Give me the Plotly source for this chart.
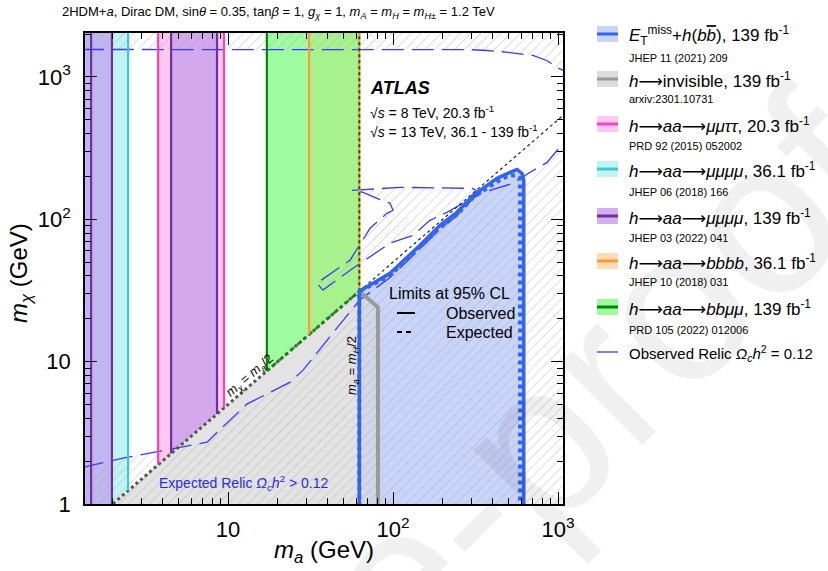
import plotly.graph_objects as go

# ---------------- data (GeV) ----------------
M_H_HALF = 62.5
X_EXT = [1.3, 1200.0]      # polygon extension beyond axis range
Y_EXT = [0.3, 3000.0]

# vertical exclusion bands [low, high] in m_a
cyan_band = [1.30, 2.48]
purple_band_low = [1.30, 1.98]
pink_band = [3.77, 9.46]
purple_band_high = [4.52, 8.58]
green_band = [17.2, 62.5]
orange_band = [31.0, 62.5]

cyan_edges = [2.48]
purple_edges = [1.48, 1.98, 4.52, 8.58]
pink_edges = [3.77, 9.46]
green_edges = [17.2]
orange_edges = [31.0, 62.5]

# E_T^miss + h(bb) observed / expected contours
obs_ma = [62.5, 62.5, 95.9, 145.8, 192.7, 244, 305, 427, 512, 565, 605, 620, 620]
obs_mchi = [0.3, 31.25, 41.8, 65.7, 90.8, 112, 147, 194, 214, 224, 210, 188, 0.3]
exp_ma = [62.5, 62.5, 95, 145, 192, 244, 305, 420, 505, 560, 585, 589, 589]
exp_mchi = [0.3, 31.25, 40, 63, 87, 108, 142, 182, 204, 203, 195, 182, 0.3]

# h -> invisible
hinv_ma = [62.5, 81, 81]
hinv_mchi = [31.25, 24.1, 0.3]

# kinematic line m_chi = m_a / 2
diag_low_ma = [1.0, 62.5]
diag_low_mchi = [0.5, 31.25]
diag_high_ma = [62.5, 1200]
diag_high_mchi = [31.25, 600]

# observed relic Omega h^2 = 0.12 contours
relic_top_ma = [1.3, 100, 293, 372, 500, 705, 860, 986, 1072, 1200]
relic_top_mchi = [1560, 1560, 1555, 1535, 1490, 1416, 1300, 1166, 1111, 1050]
relic_low_ma = [1.3, 2.31, 3.87, 7.46, 13.0, 23.8, 28.5, 38.7, 54.9, 62.5, 96, 146, 193,
                244, 305, 337, 534, 677, 858, 1072, 1200]
relic_low_mchi = [1.80, 2.10, 2.35, 2.72, 5.03, 7.18, 8.72, 13.5, 22.3, 27.0, 39, 62, 86,
                  106, 140, 152, 179, 214, 251, 341, 400]
relic_lobe_ma = [56.4, 110.3, 305.3, 336.8, 212.5, 167.6, 132.2, 95.9, 57.2, 37.6, 34.6,
                 54.9, 72.6, 91.9, 100, 95.9, 80.0, 65.8, 56.4]
relic_lobe_mchi = [159.8, 167.7, 165.0, 152.2, 112.0, 98.4, 77.2, 67.9, 45.3, 31.8, 35.6,
                   51.6, 86.5, 110.2, 115.7, 129.5, 140.4, 154.7, 159.8]

x_tickvals = [10, 100, 1000]
x_ticktext = ["10", "10<sup>2</sup>", "10<sup>3</sup>"]
y_tickvals = [1, 10, 100, 1000]
y_ticktext = ["1", "10", "10<sup>2</sup>", "10<sup>3</sup>"]

ARROW = "<span style='font-family:DejaVu Sans'>\u27f6</span>"
legend_labels = [
    "<i>E</i><sub>T</sub><sup>miss</sup>+<i>h</i>(<i>b</i><i><span style='text-decoration:overline'>b</span></i>), 139 fb<sup>-1</sup>",
    "<i>h</i>" + ARROW + "invisible, 139 fb<sup>-1</sup>",
    "<i>h</i>" + ARROW + "<i>aa</i>" + ARROW + "<i>\u03bc\u03bc\u03c4\u03c4</i>, 20.3 fb<sup>-1</sup>",
    "<i>h</i>" + ARROW + "<i>aa</i>" + ARROW + "<i>\u03bc\u03bc\u03bc\u03bc</i>, 36.1 fb<sup>-1</sup>",
    "<i>h</i>" + ARROW + "<i>aa</i>" + ARROW + "<i>\u03bc\u03bc\u03bc\u03bc</i>, 139 fb<sup>-1</sup>",
    "<i>h</i>" + ARROW + "<i>aa</i>" + ARROW + "<i>bbbb</i>, 36.1 fb<sup>-1</sup>",
    "<i>h</i>" + ARROW + "<i>aa</i>" + ARROW + "<i>bb\u03bc\u03bc</i>, 139 fb<sup>-1</sup>",
    "Observed Relic <i>\u03a9<sub>c</sub>h</i><sup>2</sup> = 0.12",
]
legend_refs = ["JHEP 11 (2021) 209", "arxiv:2301.10731", "PRD 92 (2015) 052002",
               "JHEP 06 (2018) 166", "JHEP 03 (2022) 041", "JHEP 10 (2018) 031",
               "PRD 105 (2022) 012006", None]

# ---------------- styles ----------------
FONT = "Liberation Sans, Arial, Helvetica, sans-serif"
C_BLUE_FILL = "#c8d4fa"
C_BLUE = "#3165f0"
C_GRAY_FILL = "#e3e3e3"
C_INV_FILL = "#d2d8e8"
C_GRAY = "#9a9a9a"
C_RELIC = "#3a3aff"
legend_fill = ["#c8d4fa", "#dcdcdc", "#ffc8ee", "#c0f4f4", "#d4b0f0", "#ffdcb8", "#a0f8a0", None]
legend_line = [C_BLUE, C_GRAY, "#ff3fbf", "#3cc8d0", "#7030a0", "#ff9933", "#008800", C_RELIC]
legend_size = [17, 17, 17, 17, 17, 17, 17, 15]

fig = go.Figure()


def half(v):
    return v / 2.0


def band(lo_hi, color):
    lo, hi = lo_hi
    fig.add_trace(go.Scatter(
        x=[lo, lo, hi, hi, lo], y=[half(lo), Y_EXT[1], Y_EXT[1], half(hi), half(lo)],
        fill="toself", fillcolor=color, line=dict(width=0), mode="lines",
        hoverinfo="skip", showlegend=False))


band(cyan_band, "#c0f4f4")
band(purple_band_low, "#c0b6f0")
band(pink_band, "#ffc8ee")
band(purple_band_high, "#d4a8ec")
band(green_band, "#a0fca0")
band(orange_band, "#a8f28e")

# region m_chi < m_a/2 below m_H/2
fig.add_trace(go.Scatter(
    x=[diag_low_ma[0], diag_low_ma[1], diag_low_ma[1], diag_low_ma[0]],
    y=[diag_low_mchi[0], diag_low_mchi[1], Y_EXT[0], Y_EXT[0]],
    fill="toself", fillcolor=C_GRAY_FILL, line=dict(width=0), mode="lines",
    hoverinfo="skip", showlegend=False))

# E_T^miss + h(bb) excluded region
fig.add_trace(go.Scatter(x=obs_ma, y=obs_mchi, fill="toself", fillcolor=C_BLUE_FILL,
                         line=dict(width=0), mode="lines", hoverinfo="skip", showlegend=False))
# h -> invisible region
fig.add_trace(go.Scatter(x=[M_H_HALF] + hinv_ma + [M_H_HALF], y=[Y_EXT[0]] + hinv_mchi + [Y_EXT[0]],
                         fill="toself", fillcolor=C_INV_FILL, line=dict(width=0), mode="lines",
                         hoverinfo="skip", showlegend=False))

# hatched overabundant regions
hatch = dict(shape="/", size=7, solidity=0.14, fgcolor="#a0a0a0", bgcolor="rgba(0,0,0,0)")
hatch_polys = [
    (relic_top_ma + [X_EXT[1], X_EXT[0]], relic_top_mchi + [Y_EXT[1], Y_EXT[1]]),
    (relic_low_ma + [X_EXT[1], X_EXT[0]], relic_low_mchi + [Y_EXT[0], Y_EXT[0]]),
    (relic_lobe_ma, relic_lobe_mchi),
]
for hx, hy in hatch_polys:
    fig.add_trace(go.Scatter(x=hx, y=hy, fill="toself", fillcolor="rgba(0,0,0,0)",
                             fillpattern=hatch, line=dict(width=0), mode="lines",
                             hoverinfo="skip", showlegend=False))

# relic lines
for rx, ry in [(relic_top_ma, relic_top_mchi), (relic_low_ma, relic_low_mchi),
               (relic_lobe_ma, relic_lobe_mchi)]:
    fig.add_trace(go.Scatter(x=rx, y=ry, mode="lines",
                             line=dict(color=C_RELIC, width=1.3, dash="22px,8px"),
                             hoverinfo="skip", showlegend=False))

# kinematic lines
fig.add_trace(go.Scatter(x=diag_low_ma, y=diag_low_mchi, mode="lines",
                         line=dict(color="#555555", width=3, dash="dot"),
                         hoverinfo="skip", showlegend=False))
fig.add_trace(go.Scatter(x=diag_high_ma, y=diag_high_mchi, mode="lines",
                         line=dict(color="#222222", width=1.2, dash="dot"),
                         hoverinfo="skip", showlegend=False))
fig.add_trace(go.Scatter(x=[green_band[0], green_band[1]], y=[half(green_band[0]), half(green_band[1])],
                         mode="lines", line=dict(color="#009900", width=2.5, dash="4px,4px"),
                         hoverinfo="skip", showlegend=False))


def edges(vals, color, width=2.2, dash="solid"):
    xs, ys = [], []
    for v in vals:
        xs += [v, v, None]
        ys += [half(v), Y_EXT[1], None]
    fig.add_trace(go.Scatter(x=xs, y=ys, mode="lines", line=dict(color=color, width=width, dash=dash),
                             hoverinfo="skip", showlegend=False))


edges(cyan_edges, "#3cc8d0")
edges(pink_edges, "#ff3fbf")
edges(purple_edges, "#7030a0")
edges(green_edges, "#008800")
edges(orange_edges, "#ff9933")
edges([green_band[1]], "#006600", width=2, dash="3px,3px")

# h -> invisible line
fig.add_trace(go.Scatter(x=hinv_ma, y=hinv_mchi, mode="lines", line=dict(color=C_GRAY, width=4),
                         hoverinfo="skip", showlegend=False))
# expected / observed E_T^miss + h(bb)
fig.add_trace(go.Scatter(x=exp_ma, y=exp_mchi, mode="lines", line=dict(color=C_BLUE, width=4, dash="dot"),
                         hoverinfo="skip", showlegend=False))
fig.add_trace(go.Scatter(x=obs_ma, y=obs_mchi, mode="lines", line=dict(color=C_BLUE, width=3.5),
                         hoverinfo="skip", showlegend=False))

# ---------------- layout ----------------
PL, PT, PW, PH = 85, 33, 478, 471


def paper(px, py):
    return (px - PL) / PW, (PT + PH - py) / PH


annotations = []
shapes = []


def text(px, py, s, size, xanchor="left", color="black", angle=0):
    x, y = paper(px, py)
    annotations.append(dict(x=x, y=y, xref="paper", yref="paper", text=s, showarrow=False,
                            xanchor=xanchor, yanchor="middle", textangle=angle,
                            font=dict(family=FONT, size=size, color=color)))


# faint journal watermark
text(522, 458, "Pre-proof", 220, xanchor="center", color="rgba(0,0,0,0.06)", angle=-45)

text(278, 12, "2HDM+<i>a</i>, Dirac DM, sin<i>\u03b8</i> = 0.35, tan<i>\u03b2</i> = 1, "
     "<i>g<sub>\u03c7</sub></i> = 1, <i>m<sub>A</sub></i> = <i>m<sub>H</sub></i> = "
     "<i>m<sub>H\u00b1</sub></i> = 1.2 TeV", 13, xanchor="center")
text(324, 551, "<i>m<sub>a</sub></i> (GeV)", 24, xanchor="center")
text(20, 273, "<i>m<sub>\u03c7</sub></i> (GeV)", 24, xanchor="center", angle=-90)
text(368, 88, "<b><i>ATLAS</i></b>", 18)
text(368, 112, "\u221a<i>s</i> = 8 TeV, 20.3 fb<sup>-1</sup>", 14)
text(368, 131, "\u221a<i>s</i> = 13 TeV, 36.1 - 139 fb<sup>-1</sup>", 14)
text(387, 293, "Limits at 95% CL", 16)
text(444, 313, "Observed", 16)
text(444, 332, "Expected", 16)
text(157, 483, "Expected Relic <i>\u03a9<sub>c</sub>h</i><sup>2</sup> &gt; 0.12", 14, color="#2b2bdd")
text(249, 376, "<i>m<sub>\u03c7</sub></i> = <i>m<sub>a</sub></i>/2", 13, xanchor="center", angle=-40.8)
text(352, 366, "<i>m<sub>a</sub></i> = <i>m<sub>H</sub></i>/2", 13, xanchor="center", angle=-90)


def hline(px0, px1, py, color, width, dash="solid"):
    x0, y0 = paper(px0, py)
    x1, _ = paper(px1, py)
    shapes.append(dict(type="line", xref="paper", yref="paper", x0=x0, x1=x1, y0=y0, y1=y0,
                       line=dict(color=color, width=width, dash=dash)))


hline(397, 415, 313, "black", 2)
hline(397, 415, 332, "black", 2, dash="5px,4px")

row_main = [35, 80, 125, 170, 217, 262, 308, 353]
row_sub = [57.7, 99, 146, 192, 238, 282, 330, None]
for i, lab in enumerate(legend_labels):
    cy = row_main[i] - 1
    if legend_fill[i]:
        x0, y0 = paper(597, cy + 8)
        x1, y1 = paper(618, cy - 8)
        shapes.append(dict(type="rect", xref="paper", yref="paper", x0=x0, x1=x1, y0=y0, y1=y1,
                           fillcolor=legend_fill[i], line=dict(width=0)))
        hline(597, 618, cy, legend_line[i], 3)
    else:
        hline(597, 618, cy, legend_line[i], 1.3)
    text(627, row_main[i], lab, legend_size[i])
    if legend_refs[i]:
        text(627, row_sub[i], legend_refs[i], 11)

x_minor = [2, 3, 4, 5, 6, 7, 8, 9, 20, 30, 40, 50, 60, 70, 80, 90, 200, 300, 400, 500, 600, 700, 800, 900]
y_minor = x_minor + [2000]

axis_common = dict(type="log", showgrid=False, zeroline=False, showline=True, linecolor="black",
                   linewidth=1.5, mirror="allticks", ticks="inside", ticklen=12, tickwidth=1.3,
                   tickcolor="black", tickfont=dict(family=FONT, size=22, color="black"))

fig.update_layout(
    width=828, height=571,
    margin=dict(l=PL, r=828 - PL - PW, t=PT, b=571 - PT - PH),
    paper_bgcolor="white", plot_bgcolor="white",
    showlegend=False,
    xaxis=dict(range=[0.1333, 3.0303], tickvals=x_tickvals, ticktext=x_ticktext,
               minor=dict(ticks="inside", ticklen=6, tickvals=x_minor, tickcolor="black", showgrid=False),
               ticklabelstandoff=5, **axis_common),
    yaxis=dict(range=[0.0, 3.309], tickvals=y_tickvals, ticktext=y_ticktext,
               minor=dict(ticks="inside", ticklen=6, tickvals=y_minor, tickcolor="black", showgrid=False),
               ticklabelstandoff=8, **axis_common),
    annotations=annotations, shapes=shapes,
)

fig.write_html("out.html")
